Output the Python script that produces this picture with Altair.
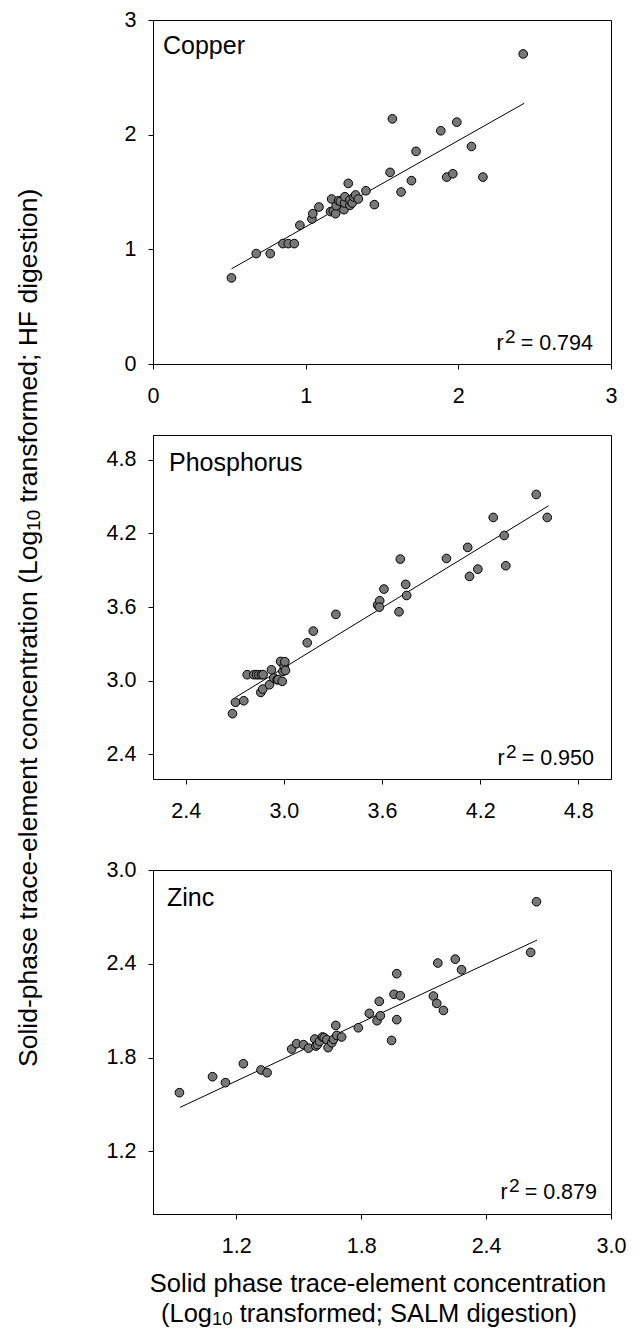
import altair as alt
import pandas as pd

FONT = "Liberation Sans"
W, H = 458, 344

# ---------------- data ----------------
cu_x = [0.514, 0.676, 0.768, 0.851, 0.886, 0.925, 0.962, 1.041, 1.047, 1.087, 1.163, 1.170,
        1.181, 1.196, 1.200, 1.216, 1.227, 1.251, 1.255, 1.257, 1.279, 1.290, 1.290, 1.305,
        1.316, 1.327, 1.345, 1.395, 1.450, 1.553, 1.568, 1.625, 1.693, 1.723, 1.885, 1.924,
        1.964, 1.990, 2.086, 2.161, 2.425]
cu_y = [0.751, 0.963, 0.963, 1.050, 1.050, 1.050, 1.210, 1.265, 1.311, 1.369, 1.329, 1.439,
        1.334, 1.311, 1.380, 1.424, 1.418, 1.346, 1.404, 1.459, 1.575, 1.384, 1.430, 1.404,
        1.456, 1.474, 1.439, 1.511, 1.390, 1.671, 2.138, 1.500, 1.599, 1.854, 2.034, 1.630,
        1.659, 2.109, 1.897, 1.630, 2.704]
cu_fit_x = [0.514, 2.432]
cu_fit_y = [0.830, 2.274]

ph_x = [2.686, 2.704, 2.755, 2.776, 2.816, 2.833, 2.847, 2.863, 2.873, 2.859, 2.871, 2.912,
        2.924, 2.939, 2.959, 2.965, 2.980, 2.990, 2.994, 3.002, 3.006, 3.010, 3.143, 3.180,
        3.318, 3.573, 3.586, 3.584, 3.612, 3.704, 3.712, 3.745, 3.751, 3.994, 4.124, 4.135,
        4.186, 4.280, 4.347, 4.357, 4.543, 4.610]
ph_y = [2.732, 2.824, 2.837, 3.049, 3.049, 3.049, 3.049, 3.049, 3.049, 2.905, 2.932, 2.967,
        3.089, 3.022, 3.008, 3.008, 3.157, 2.995, 3.076, 3.117, 3.155, 3.084, 3.309, 3.404,
        3.540, 3.616, 3.651, 3.599, 3.746, 3.561, 3.990, 3.784, 3.694, 3.995, 4.085, 3.849,
        3.908, 4.329, 4.182, 3.936, 4.516, 4.329]
ph_fit_x = [2.704, 4.618]
ph_fit_y = [2.864, 4.424]

zn_x = [0.927, 1.086, 1.148, 1.234, 1.319, 1.348, 1.466, 1.490, 1.523, 1.547, 1.577, 1.582,
        1.590, 1.600, 1.614, 1.622, 1.635, 1.641, 1.659, 1.667, 1.678, 1.683, 1.706, 1.786,
        1.839, 1.876, 1.887, 1.892, 1.946, 1.958, 1.971, 1.971, 1.988, 2.147, 2.163, 2.168,
        2.195, 2.252, 2.282, 2.614, 2.642]
zn_y = [1.576, 1.678, 1.640, 1.761, 1.721, 1.704, 1.855, 1.889, 1.883, 1.861, 1.919, 1.874,
        1.883, 1.904, 1.932, 1.928, 1.915, 1.864, 1.895, 1.917, 2.006, 1.942, 1.932, 1.991,
        2.083, 2.036, 2.160, 2.068, 1.910, 2.205, 2.337, 2.043, 2.196, 2.194, 2.147, 2.405,
        2.102, 2.430, 2.362, 2.473, 2.797]
zn_fit_x = [0.930, 2.645]
zn_fit_y = [1.482, 2.552]

cu_domain = [0, 3]
ph_domain = [2.2, 5.0]
zn_domain = [0.8, 3.0]
cu_ticks = [0, 1, 2, 3]
ph_ticks = [2.4, 3.0, 3.6, 4.2, 4.8]
zn_ticks = [1.2, 1.8, 2.4, 3.0]

panel_names = ["Copper", "Phosphorus", "Zinc"]
r2_texts = ["= 0.794", "= 0.950", "= 0.879"]

y_title_parts = ["Solid-phase trace-element concentration (Log", "10", "transformed; HF digestion)"]
x_title_line1 = "Solid phase trace-element concentration"
x_title_parts = ["(Log", "10", "transformed; SALM digestion)"]

LBL = 21.5


def txt(s, x, y, size, align="left", angle=0):
    kw = dict(align=align, baseline="alphabetic", font=FONT, fontSize=size, color="black")
    if angle:
        kw["angle"] = angle
    return alt.Chart(pd.DataFrame({"t": [s]})).mark_text(**kw).encode(
        text="t:N", x=alt.value(x), y=alt.value(y))


def r2_label(value_text, xr, yb):
    w_main = 3.364 * LBL
    x2 = xr - w_main - 5
    return [
        txt(value_text, xr, yb, LBL, align="right"),
        txt("2", x2, yb - 7, 19, align="right"),
        txt("r", x2 - 10.6 - 1.5, yb, LBL, align="right"),
    ]


def panel(xs, ys, fx, fy, dom, ticks, fmt, name, nx, ny, r2, rx, ry, extra=()):
    pts = pd.DataFrame({"x": xs, "y": ys})
    fit = pd.DataFrame({"x": fx, "y": fy})
    sc = alt.Scale(domain=dom, nice=False, zero=False)
    xax = alt.Axis(values=ticks, format=fmt, title=None, labelPadding=16,
                   minExtent=42, maxExtent=42, labelFlush=False)
    yax = alt.Axis(values=ticks, format=fmt, title=None, labelPadding=12,
                   minExtent=47, maxExtent=47, labelFlush=False)
    line = alt.Chart(fit).mark_line(color="black", strokeWidth=1).encode(
        x=alt.X("x:Q", scale=sc, axis=xax), y=alt.Y("y:Q", scale=sc, axis=yax))
    dots = alt.Chart(pts).mark_circle(fill="#787878", stroke="black", strokeWidth=1,
                                      size=75, opacity=1).encode(
        x=alt.X("x:Q", scale=sc, axis=xax), y=alt.Y("y:Q", scale=sc, axis=yax))
    layers = [line, dots, txt(name, nx, ny, 25)] + r2_label(r2, rx, ry) + list(extra)
    return alt.layer(*layers).properties(width=W, height=H)


cu = panel(cu_x, cu_y, cu_fit_x, cu_fit_y, cu_domain, cu_ticks, ".0f",
           panel_names[0], 10, 34, r2_texts[0], 440, 330)
ph = panel(ph_x, ph_y, ph_fit_x, ph_fit_y, ph_domain, ph_ticks, ".1f",
           panel_names[1], 16, 36, r2_texts[1], 441, 330)

fs_t, fs_s = 25.5, 18.5
w_log = 2.001 * fs_t
w_10 = 1.112 * fs_s
w_sp = 0.278 * fs_t
xt_start = 8
x_extra = [
    txt(x_title_line1, 225, 422, fs_t, align="center"),
    txt(x_title_parts[0], xt_start, 452, fs_t),
    txt(x_title_parts[1], xt_start + w_log, 455, fs_s),
    txt(x_title_parts[2], xt_start + w_log + w_10 + w_sp, 452, fs_t),
]
zn = panel(zn_x, zn_y, zn_fit_x, zn_fit_y, zn_domain, zn_ticks, ".1f",
           panel_names[2], 14, 36, r2_texts[2], 444, 329, extra=x_extra)

fy_t, fy_s = 26.5, 19
wy_part1 = 20.231 * fy_t
wy_10 = 1.112 * fy_s
wy_sp = 0.278 * fy_t
yt_start = 1047
yt_x = 31
ytitle = alt.layer(
    txt(y_title_parts[0], yt_x, yt_start, fy_t, angle=270),
    txt(y_title_parts[1], yt_x + 3, yt_start - wy_part1, fy_s, angle=270),
    txt(y_title_parts[2], yt_x, yt_start - wy_part1 - wy_10 - wy_sp, fy_t, angle=270),
).properties(width=40, height=1200, view=alt.ViewBackground(stroke="transparent"))

right = alt.vconcat(alt.vconcat(cu, ph, spacing=27), zn, spacing=36)

chart = alt.hconcat(ytitle, right, spacing=58).properties(
    padding={"left": 5, "top": 8, "right": 0, "bottom": 0}
).configure_view(stroke="black", strokeWidth=1).configure_axis(
    domainColor="black", tickColor="black", labelColor="black", labelFont=FONT,
    labelFontSize=LBL, tickSize=5, grid=False, domainWidth=1, tickWidth=1
)

chart.save("out.html", embed_options={"renderer": "svg", "actions": False})
